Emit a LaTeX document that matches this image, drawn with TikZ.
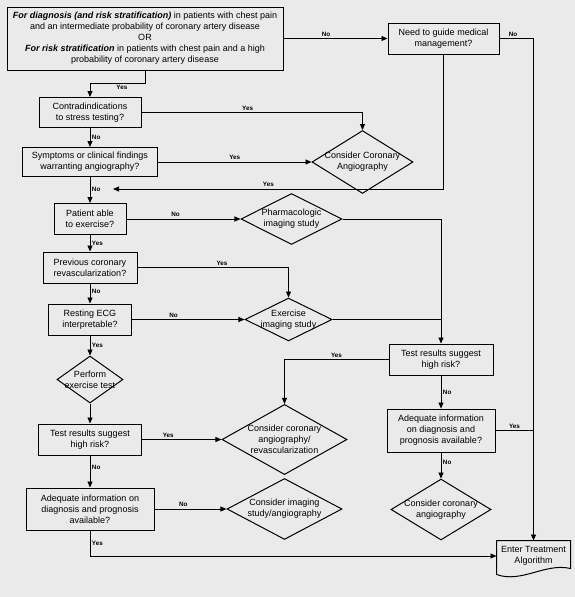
\documentclass[tikz,border=0pt]{standalone}
\usepackage{fontspec}
\setmainfont{Liberation Sans}
\usepackage{tikz}
\usetikzlibrary{
	calc,
	positioning,
	arrows.meta,
	shapes.geometric
}
\definecolor{bggray}{HTML}{EAEAEA}

\begin{document}
\begin{tikzpicture}[
		x=1pt, y=-1pt,
		box/.style={draw, line width=1pt, align=center, inner sep=0pt, font=\fontsize{9}{11}\selectfont},
		choice/.style={diamond, draw, line width=1pt, align=center, inner sep=-8pt, font=\fontsize{9}{11}\selectfont},
		line/.style={line width=0.9pt},
		arr/.style={line, -{Triangle[length=6pt, width=5pt]}},
		lbl/.style={font=\fontsize{6.3}{7}\selectfont\bfseries, inner sep=1.5pt}
	]
	% 背景
	\useasboundingbox (0,0) rectangle (575,597);
	\fill[bggray] (0,0) rectangle (575,597);

	% 方框
	\node[box, minimum width=276pt, minimum height=63pt] (start) at (145,38.5)
		{\textbf{\textit{For diagnosis (and risk stratification)}} in patients with chest pain\\and an intermediate probability of coronary artery disease\\OR\\\textbf{\textit{For risk stratification}} in patients with chest pain and a high\\probability of coronary artery disease};
	\node[box, minimum width=111pt, minimum height=31pt] (guide)    at (443.5,38.5) {Need to guide medical\\management?};
	\node[box, minimum width=102pt, minimum height=30pt] (contra)   at (90,112.5)   {Contradindications\\to stress testing?};
	\node[box, minimum width=135pt, minimum height=29pt] (symptoms) at (90,162)     {Symptoms or clinical findings\\warranting angiography?};
	\node[box, minimum width=72pt,  minimum height=31pt] (able)     at (90,219)     {Patient able\\to exercise?};
	\node[box, minimum width=94pt,  minimum height=31pt] (revasc)   at (90,267.5)   {Previous coronary\\revascularization?};
	\node[box, minimum width=83pt,  minimum height=31pt] (ecg)      at (90,319.5)   {Resting ECG\\interpretable?};
	\node[box, minimum width=103pt, minimum height=31pt] (riskL)    at (90,439.5)   {Test results suggest\\high risk?};
	\node[box, minimum width=128pt, minimum height=42pt] (infoL)    at (90,509)     {Adequate information on\\diagnosis and prognosis\\available?};
	\node[box, minimum width=104pt, minimum height=31pt] (riskR)    at (441,359.5)  {Test results suggest\\high risk?};
	\node[box, minimum width=108pt, minimum height=43pt] (infoR)    at (441,430.5)  {Adequate information\\on diagnosis and\\prognosis available?};

	% 菱形
	\node[choice, minimum width=101pt, minimum height=49pt] (angio)  at (362.5,162) {Consider Coronary\\Angiography};
	\node[choice, minimum width=101pt, minimum height=51pt] (pharm)  at (291.5,219) {Pharmacologic\\imaging study};
	\node[choice, minimum width=87pt,  minimum height=41pt] (exim)   at (288.5,319.5) {Exercise\\imaging study};
	\node[choice, minimum width=66pt,  minimum height=47pt] (extest) at (90,379.5)   {Perform\\exercise test};
	\node[choice, minimum width=125pt, minimum height=69pt] (angrev) at (284.5,439.5) {Consider coronary\\angiography/\\revascularization};
	\node[choice, minimum width=115pt, minimum height=52pt] (imang)  at (284.5,509)  {Consider imaging\\study/angiography};
	\node[choice, minimum width=100pt, minimum height=55pt] (angioR) at (441,509.5)  {Consider coronary\\angiography};

	% 终点
	\node[box, draw=none, minimum width=73pt, minimum height=30pt] (treat) at (533.5,556) {Enter Treatment\\Algorithm};
	\draw[line width=1pt] ($(treat.south west)+(0,3)$) -- (treat.north west) -- (treat.north east)
		-- ($(treat.south east)+(0,-3)$) .. controls +(-25,-6) and +(25,9) .. ($(treat.south west)+(0,3)$);

	% 连线
	\coordinate (back) at (113,189);
	\draw[arr] (start) -- node[lbl, above, pos=0.41] (n1) {No} (guide);
	\draw[arr] (start.south) -- ++(0,13) -| node[lbl, below, pos=0.21] (y1) {Yes} (contra.north);
	\draw[arr] (contra.east) -| node[lbl, above, pos=0.24] (y2) {Yes} (angio.north);
	\draw[arr] (contra) -- node[lbl, right] (n2) {No} (symptoms);
	\draw[arr] (symptoms) -- node[lbl, above] (y3) {Yes} (angio);
	\draw[arr] (symptoms) -- node[lbl, right, pos=0.48] (n3) {No} (able);
	\draw[arr] (guide.south) |- node[lbl, above, pos=0.765] (y4) {Yes} (back);
	\draw[arr] (guide.east) -| node[lbl, above, pos=0.2] (n4) {No} (treat.north);
	\draw[arr] (able) -- node[lbl, above, pos=0.43] (n5) {No} (pharm);
	\draw[arr] (able) -- node[lbl, right] (y5) {Yes} (revasc);
	\draw[arr] (pharm.east) -| (riskR.north);
	\draw[arr] (revasc.east) -| node[lbl, above, pos=0.28] (y6) {Yes} (exim.north);
	\draw[arr] (revasc) -- node[lbl, right, pos=0.4] (n6) {No} (ecg);
	\draw[arr] (ecg) -- node[lbl, above, pos=0.37] (n7) {No} (exim);
	\draw[line] (exim.east) -- (exim.east -| riskR.north);
	\draw[arr] (ecg) -- node[lbl, right] (y7) {Yes} (extest);
	\draw[arr] (extest) -- (riskL);
	\draw[arr] (riskL) -- node[lbl, above, pos=0.33] (y8) {Yes} (angrev);
	\draw[arr] (riskL) -- node[lbl, right, pos=0.36] (n8) {No} (infoL);
	\draw[arr] (infoL) -- node[lbl, above, pos=0.4] (n9) {No} (imang);
	\draw[arr] (infoL.south) |- node[lbl, right, pos=0.26] (y9) {Yes} (treat.west);
	\draw[arr] (riskR.west) -| node[lbl, above, pos=0.25] (y10) {Yes} (angrev.north);
	\draw[arr] (riskR) -- node[lbl, right] (n10) {No} (infoR);
	\draw[line] (infoR.east) -- node[lbl, above] (y11) {Yes} (infoR.east -| treat.north);
	\draw[arr] (infoR) -- node[lbl, right, pos=0.37] (n11) {No} (angioR);
\end{tikzpicture}
\end{document}
